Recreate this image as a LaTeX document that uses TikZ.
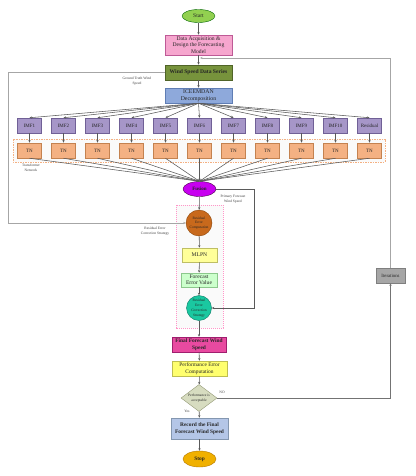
\documentclass[tikz,border=0pt]{standalone}
\usepackage{fontspec}
\setmainfont{Liberation Serif}
\usetikzlibrary{shapes.geometric,arrows.meta,calc}
\definecolor{lnd}{HTML}{5A5A5A}
\definecolor{lnl}{HTML}{A6A6A6}
\begin{document}
\begin{tikzpicture}[x=1pt,y=-1pt,
  every node/.style={text=black!85},
  fbox/.style={draw=#1!70!black, rectangle, inner sep=0pt, align=center, line width=0.5pt},
  fs/.style={font=\fontsize{5.6}{6.6}\selectfont},
  tiny/.style={font=\fontsize{3.6}{4.8}\selectfont, align=center, text=black!75},
  flow/.style={draw=lnd, line width=0.55pt, -{Stealth[length=2.6pt,width=2.2pt]}},
  fback/.style={draw=lnl, line width=0.9pt, -{Stealth[length=2.6pt,width=2.2pt]}},
]
\useasboundingbox (0,0) rectangle (415,476);
\fill[white] (0,0) rectangle (415,476);

% top
\node[ellipse, draw=green!40!black, fill={rgb,255:red,146;green,208;blue,80}, minimum width=33pt, minimum height=13pt, inner sep=0pt, fs] (start) at (198.5,16) {Start};
\node[fbox=magenta, draw={rgb,255:red,190;green,90;blue,150}, fill={rgb,255:red,246;green,166;blue,206}, minimum width=67pt, minimum height=20pt, font=\fontsize{5.6}{6.8}\selectfont] (acq) at (198.5,45) {Data Acquisition \&\\Design the Forecasting\\Model};
\node[fbox=olive, draw={rgb,255:red,80;green,100;blue,40}, fill={rgb,255:red,119;green,147;blue,60}, minimum width=67pt, minimum height=15pt, font=\bfseries\fontsize{5.6}{6.6}\selectfont] (wind) at (198.5,72.5) {Wind Speed Data Series};
\node[fbox=blue, draw={rgb,255:red,95;green,125;blue,180}, fill={rgb,255:red,142;green,169;blue,219}, minimum width=67pt, minimum height=15pt, font=\fontsize{5.8}{6.8}\selectfont] (ice) at (198.5,95.5) {ICEEMDAN\\Decomposition};

% TN group rectangle
\draw[draw={rgb,255:red,244;green,177;blue,131}, line width=0.4pt, dash pattern=on 1.5pt off 1pt, fill=black!2] (13,139) rectangle (385,162);

% IMFs and TNs
\foreach \i/\lab in {1/IMF1,2/IMF2,3/IMF3,4/IMF4,5/IMF5,6/IMF6,7/IMF7,8/IMF8,9/IMF9,10/IMF10,11/Residual}{
  \pgfmathsetmacro{\xx}{29.5+34*(\i-1)}
  \node[fbox=violet, draw={rgb,255:red,112;green,96;blue,150}, fill={rgb,255:red,166;green,150;blue,200}, minimum width=24pt, minimum height=15pt, font=\fontsize{5}{6}\selectfont] (imf\i) at (\xx,125.5) {\lab};
  \node[fbox=orange, draw={rgb,255:red,196;green,130;blue,80}, fill={rgb,255:red,244;green,177;blue,131}, minimum width=24pt, minimum height=15pt, font=\fontsize{5}{6}\selectfont] (tn\i) at (\xx,150.5) {TN};
}

\node[ellipse, draw=violet!60!black, fill={rgb,255:red,200;green,0;blue,240}, minimum width=33pt, minimum height=15pt, inner sep=0pt, font=\bfseries\fontsize{5}{6}\selectfont] (fus) at (199.5,189) {Fusion};

% pink group
\draw[draw={rgb,255:red,255;green,150;blue,200}, line width=0.4pt, dash pattern=on 1.2pt off 0.8pt, fill=black!2] (176,205) rectangle (223,328);

\node[circle, draw={rgb,255:red,140;green,70;blue,10}, fill={rgb,255:red,200;green,105;blue,28}, minimum size=26pt, inner sep=0pt, tiny, text=black!85] (rec) at (199,223) {Residual\\Error\\Computation};
\node[fbox=yellow, draw={rgb,255:red,190;green,190;blue,100}, fill={rgb,255:red,255;green,255;blue,153}, minimum width=35pt, minimum height=14pt, fs] (mlpn) at (199.5,255) {MLPN};
\node[fbox=green, draw={rgb,255:red,140;green,200;blue,140}, fill={rgb,255:red,204;green,255;blue,204}, minimum width=36pt, minimum height=14pt, font=\fontsize{5.6}{6.4}\selectfont] (fev) at (199,280) {Forecast\\Error Value};
\node[circle, draw={rgb,255:red,10;green,120;blue,100}, fill={rgb,255:red,26;green,200;blue,160}, minimum size=25pt, inner sep=0pt, tiny, text=black!85] (recs) at (199,308) {Residual\\Error\\Correction\\Strategy};

% lower flow
\node[fbox=magenta, draw={rgb,255:red,160;green,30;blue,110}, fill={rgb,255:red,232;green,74;blue,160}, minimum width=54pt, minimum height=15pt, font=\bfseries\fontsize{5.4}{6.4}\selectfont] (final) at (199,344.5) {Final Forecast Wind\\Speed};
\node[fbox=yellow, draw={rgb,255:red,190;green,190;blue,80}, fill={rgb,255:red,255;green,255;blue,110}, minimum width=55pt, minimum height=15pt, font=\fontsize{5.4}{6.4}\selectfont] (perf) at (199.5,368.5) {Performance Error\\Computation};
\node[diamond, draw={rgb,255:red,150;green,155;blue,120}, fill={rgb,255:red,215;green,220;blue,192}, minimum width=36pt, minimum height=27pt, inner sep=0pt, aspect=1.33, tiny, text=black!85] (dec) at (199,398) {Performance is\\acceptable};
\node[fbox=blue, draw={rgb,255:red,132;green,151;blue,176}, fill={rgb,255:red,180;green,198;blue,231}, minimum width=57pt, minimum height=21pt, font=\bfseries\fontsize{5.4}{6.6}\selectfont] (record) at (199.5,428.5) {Record the Final\\Forecast Wind Speed};
\node[ellipse, draw={rgb,255:red,180;green,120;blue,0}, fill={rgb,255:red,240;green,176;blue,0}, minimum width=33pt, minimum height=16pt, inner sep=0pt, font=\bfseries\fontsize{5.4}{6.4}\selectfont] (stop) at (199.5,459) {Stop};

\node[fbox=gray, draw={rgb,255:red,127;green,127;blue,127}, fill={rgb,255:red,166;green,166;blue,166}, minimum width=29pt, minimum height=15pt, font=\fontsize{4.8}{5.8}\selectfont] (iter) at (390.5,275.5) {Iterations};

% labels
\node[tiny] (lgt) at (137,81) {Ground Truth Wind\\Speed};
\node[tiny] (ltn) at (31,167.5) {Transformer\\Network};
\node[tiny] (lpf) at (233,199) {Primary Forecast\\Wind Speed};
\node[tiny] (lrs) at (155,231.5) {Residual Error\\Correction Strategy};
\node[tiny] (lno) at (222,392) {NO};
\node[tiny] (lyes) at (187,411) {Yes};

% coordinates
\coordinate (gl) at (8,72.5);
\coordinate (pf) at (254,189);
\coordinate (fb) at (200,58);

% connectors
\draw[flow] (start) -- (acq);
\draw[flow] (acq) -- (wind);
\draw[flow] (wind) -- (ice);
\foreach \i in {1,...,11}{
  \draw[flow] (ice.south) -- (imf\i.north);
  \draw[flow] (imf\i) -- (tn\i);
  \draw[flow] (tn\i.south) -- (fus.north);
}
\draw[flow] (fus) -- (rec);
\draw[flow] (rec) -- (mlpn);
\draw[flow] (mlpn) -- (fev);
\draw[flow] (fev) -- (recs);
\draw[flow] (recs) -- (final);
\draw[flow] (final) -- (perf);
\draw[flow] (perf) -- (dec);
\draw[flow] (dec) -- (record);
\draw[flow] (record) -- (stop);
\draw[flow] (fus.east) -- (pf) |- (recs.east);
\draw[fback] (wind.west) -- (gl) |- (rec.west);
\draw[flow, draw=black!55, line width=0.7pt] (dec.east) -| (iter.south);
\draw[fback] (iter.north) |- (fb);
\end{tikzpicture}
\end{document}
